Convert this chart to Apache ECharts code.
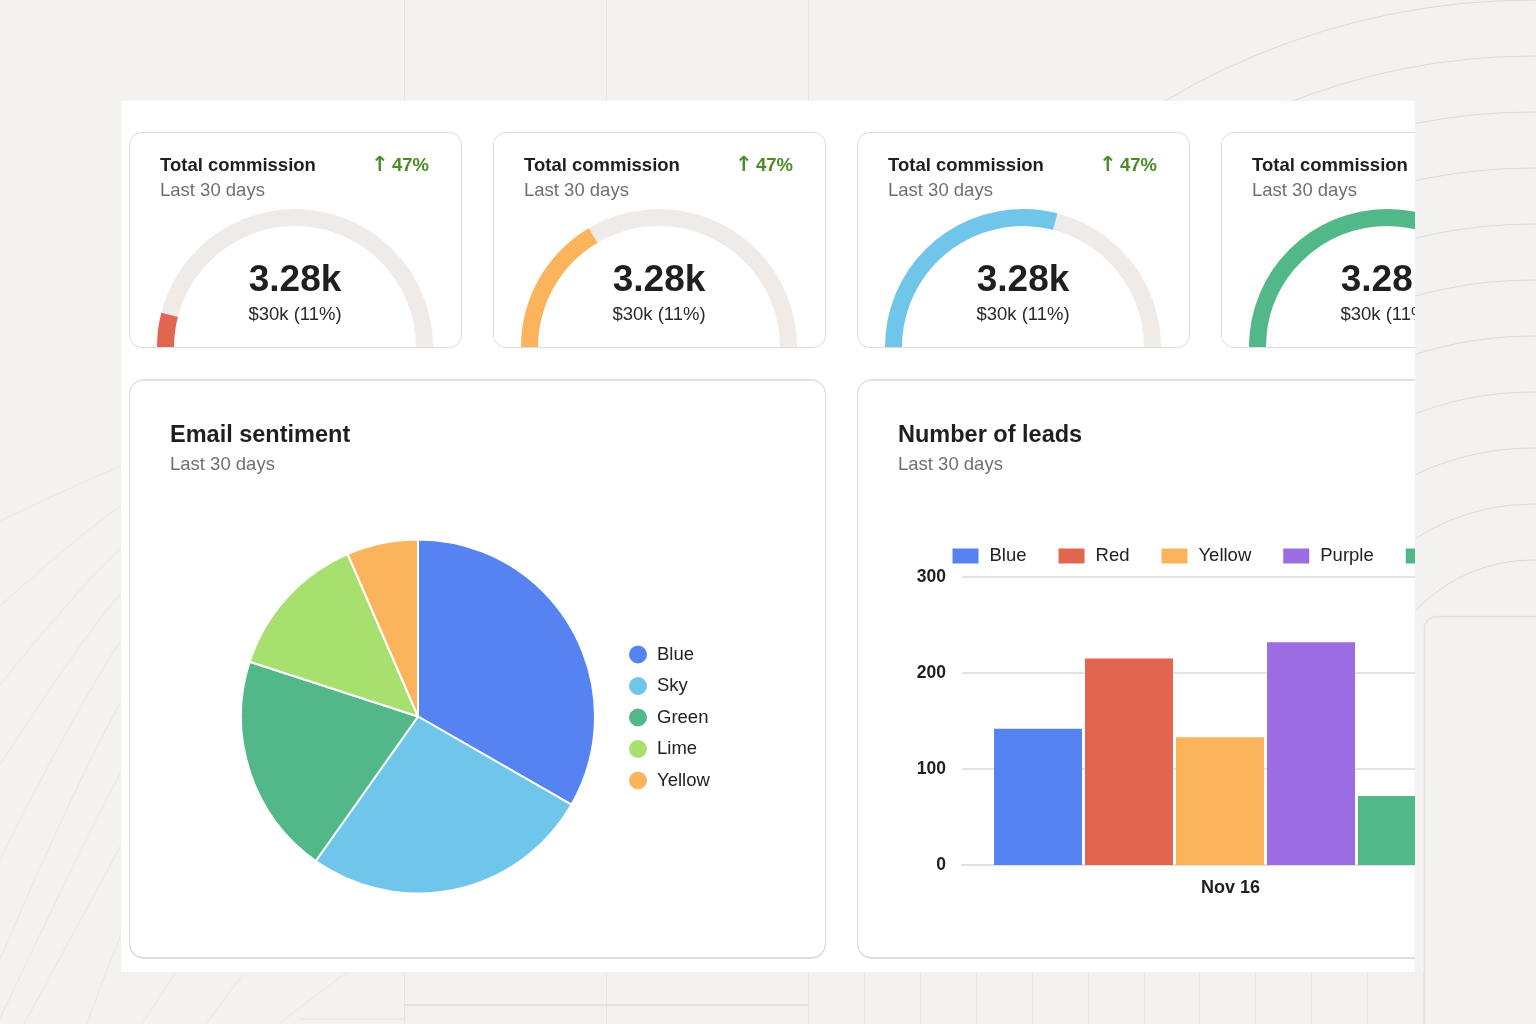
<!DOCTYPE html>
<html>
<head>
<meta charset="utf-8">
<script src="https://cdn.jsdelivr.net/npm/echarts@6/dist/echarts.min.js"></script>
<style>
html,body{margin:0;padding:0;background:#f3f2f0;width:1536px;height:1024px;overflow:hidden;}
#bg{position:absolute;left:0;top:0;width:1536px;height:1024px;}
#panel{position:absolute;left:121px;top:101px;width:1294px;height:871px;background:#fff;overflow:hidden;}
#main{position:absolute;left:0;top:0;width:1294px;height:871px;}
#bars{position:absolute;left:736px;top:278px;width:700px;height:578px;}
</style>
</head>
<body>
<div id="bg"></div>
<div id="panel"><div id="main"></div><div id="bars"></div></div>
<script>
// ---------- data ----------
const gaugeTitles = ['Total commission', 'Total commission', 'Total commission', 'Total commission'];
const gaugePeriod = 'Last 30 days';
const gaugeChange = ['47%', '47%', '47%', '47%'];
const gaugeValues = [8, 33, 58, 72];          // share of the arc filled (%)
const gaugeMain = ['3.28k', '3.28k', '3.28k', '3.28k'];
const gaugeSub = ['$30k (11%)', '$30k (11%)', '$30k (11%)', '$30k (11%)'];

const pieTitle = 'Email sentiment';
const pieCategories = ['Blue', 'Sky', 'Green', 'Lime', 'Yellow'];
const pieValues = [333, 265, 202, 135, 65];

const barTitle = 'Number of leads';
const barCategories = ['Nov 16'];
const barSeriesNames = ['Blue', 'Red', 'Yellow', 'Purple', 'Green'];
const barValues = [142, 215, 133, 232, 72];
const yAxisMin = 0, yAxisMax = 300, yAxisInterval = 100;

// ---------- styles ----------
const FONT = '"Liberation Sans", Arial, Helvetica, sans-serif';
const COLORS = {
  Blue: '#5683f2', Sky: '#6fc5ea', Green: '#52b889', Lime: '#a8e06f',
  Yellow: '#fbb45b', Red: '#e2654f', Purple: '#9c6ce2'
};
const gaugeColors = [COLORS.Red, COLORS.Yellow, COLORS.Sky, COLORS.Green];
const INK = '#1f1f1f', MUTED = '#707070', BORDER = '#e0dbd5', TRACK = '#efebe8', UP = '#4a8c25';

// ---------- background decoration ----------
const bg = echarts.init(document.getElementById('bg'), null, {renderer: 'canvas'});
const deco = [];
const faint = '#e8e6e3';
[404.5, 606.5, 808.5].forEach(function (x) {
  deco.push({type: 'line', shape: {x1: x, y1: 0, x2: x, y2: 101}, style: {stroke: faint, lineWidth: 1}});
  deco.push({type: 'line', shape: {x1: x, y1: 972, x2: x, y2: 1024}, style: {stroke: faint, lineWidth: 1}});
});
deco.push({type: 'line', shape: {x1: 404, y1: 1005, x2: 808, y2: 1005}, style: {stroke: '#e4e2df', lineWidth: 2}});
deco.push({type: 'line', shape: {x1: 299, y1: 1019, x2: 404, y2: 1019}, style: {stroke: faint, lineWidth: 1}});
for (let k = 0; k < 11; k++) {
  const x = Math.round(864 + k * 55.9) + 0.5;
  deco.push({type: 'line', shape: {x1: x, y1: 972, x2: x, y2: 1024}, style: {stroke: faint, lineWidth: 1}});
}
for (let k = 0; k < 11; k++) {
  deco.push({type: 'arc', shape: {cx: 1533, cy: 722, r: 722 - k * 56, startAngle: Math.PI, endAngle: 2 * Math.PI, clockwise: true},
    style: {stroke: '#dcd9de', fill: null, lineWidth: 1}});
}
[
  [[0, 521], [121, 466], [250, 420]],
  [[0, 606], [121, 506], [250, 440]],
  [[0, 685], [121, 548], [250, 460]],
  [[0, 765], [121, 593], [250, 480]],
  [[0, 859], [121, 641], [250, 500]],
  [[0, 959], [121, 702], [250, 530]],
  [[-10, 1040], [121, 772], [250, 560]],
  [[24, 1024], [121, 845], [250, 600]],
  [[87, 1024], [121, 935], [250, 650]],
  [[142, 1024], [176, 972], [220, 900]],
  [[206, 1024], [245, 972], [290, 920]],
  [[279, 1024], [348, 972], [420, 930]]
].forEach(function (pts) {
  deco.push({type: 'polyline', shape: {points: pts, smooth: 0.3}, style: {stroke: faint, lineWidth: 1, fill: null}});
});
deco.push({type: 'rect', shape: {x: 1424.5, y: 616.5, width: 300, height: 600, r: 12}, style: {fill: '#f3f2f0', stroke: '#e3e1df', lineWidth: 1.5}});
bg.setOption({animation: false, graphic: {elements: deco}});

// ---------- main panel: cards, gauges, pie ----------
const main = echarts.init(document.getElementById('main'), null, {renderer: 'canvas'});
const g = [];
const cardX = [8, 372, 736, 1100];
const gaugeSeries = [];
cardX.forEach(function (cx, i) {
  g.push({type: 'rect', z: 0, shape: {x: cx + 0.5, y: 31.5, width: 332, height: 215, r: 12},
    style: {fill: '#fff', stroke: BORDER, lineWidth: 1}});
  g.push({type: 'text', z: 1, x: cx + 31, y: 65, style: {text: gaugeTitles[i], font: 'bold 18.5px ' + FONT, fill: INK, align: 'left', verticalAlign: 'middle'}});
  g.push({type: 'text', z: 1, x: cx + 31, y: 90, style: {text: gaugePeriod, font: '18.5px ' + FONT, fill: MUTED, align: 'left', verticalAlign: 'middle'}});
  g.push({type: 'text', z: 1, x: cx + 300, y: 65, style: {
    text: '{a|↑} {b|' + gaugeChange[i] + '}', align: 'right', verticalAlign: 'middle',
    rich: {
      a: {fontSize: 21, fontWeight: 'bold', fontFamily: '"DejaVu Sans", sans-serif', fill: UP, color: UP},
      b: {fontSize: 18.5, fontWeight: 'bold', fontFamily: FONT, fill: UP, color: UP}
    }}});
  gaugeSeries.push({
    type: 'gauge', center: [cx + 166, 246], radius: 138, startAngle: 180, endAngle: 0,
    min: 0, max: 100, z: 3,
    axisLine: {lineStyle: {width: 17, color: [[1, TRACK]]}},
    progress: {show: true, width: 17, roundCap: false, itemStyle: {color: gaugeColors[i]}},
    pointer: {show: false}, anchor: {show: false},
    axisTick: {show: false}, splitLine: {show: false}, axisLabel: {show: false},
    title: {show: true, offsetCenter: [0, -32], fontSize: 18.5, color: '#2a2a2a', fontFamily: FONT},
    detail: {show: true, offsetCenter: [0, -66], fontSize: 37, fontWeight: 'bold', color: INK, fontFamily: FONT,
      formatter: function () { return gaugeMain[i]; }},
    data: [{value: gaugeValues[i], name: gaugeSub[i]}]
  });
});
// lower cards
g.push({type: 'rect', z: 0, shape: {x: 8.5, y: 278.5, width: 696, height: 578, r: 14},
  style: {fill: '#fff', stroke: BORDER, lineWidth: 1, shadowColor: 'rgba(0,0,0,0.10)', shadowOffsetY: 1, shadowBlur: 0}});
g.push({type: 'rect', z: 0, shape: {x: 736.5, y: 278.5, width: 700, height: 578, r: 14},
  style: {fill: '#fff', stroke: BORDER, lineWidth: 1, shadowColor: 'rgba(0,0,0,0.10)', shadowOffsetY: 1, shadowBlur: 0}});
g.push({type: 'text', z: 1, x: 49, y: 335, style: {text: pieTitle, font: 'bold 23.5px ' + FONT, fill: INK, align: 'left', verticalAlign: 'middle'}});
g.push({type: 'text', z: 1, x: 49, y: 364, style: {text: gaugePeriod, font: '18.5px ' + FONT, fill: MUTED, align: 'left', verticalAlign: 'middle'}});

main.setOption({
  animation: false,
  graphic: {elements: g},
  legend: {
    data: pieCategories, orient: 'vertical', left: 506, top: 542.5, padding: 0,
    icon: 'circle', itemWidth: 20, itemHeight: 20, itemGap: 9.5,
    textStyle: {fontSize: 18.5, color: '#222', fontFamily: FONT, lineHeight: 20, padding: [0, 0, 0, 4]}
  },
  series: gaugeSeries.concat([{
    type: 'pie', center: [297, 615.5], radius: 177, startAngle: 90, clockwise: true,
    label: {show: false}, labelLine: {show: false}, z: 3,
    itemStyle: {borderColor: '#fff', borderWidth: 2},
    emphasis: {disabled: true},
    data: pieCategories.map(function (n, i) {
      return {name: n, value: pieValues[i], itemStyle: {color: COLORS[n]}};
    })
  }])
});

// ---------- bar chart ----------
const bars = echarts.init(document.getElementById('bars'), null, {renderer: 'canvas'});
bars.setOption({
  animation: false,
  graphic: {elements: [
    {type: 'text', x: 41, y: 57, style: {text: barTitle, font: 'bold 23.5px ' + FONT, fill: INK, align: 'left', verticalAlign: 'middle'}},
    {type: 'text', x: 41, y: 86, style: {text: gaugePeriod, font: '18.5px ' + FONT, fill: MUTED, align: 'left', verticalAlign: 'middle'}}
  ]},
  legend: {
    data: barSeriesNames, left: 95.5, top: 167.5, padding: 0, icon: 'rect',
    itemWidth: 26, itemHeight: 15, itemGap: 32,
    textStyle: {fontSize: 18.5, color: '#222', fontFamily: FONT, lineHeight: 15, padding: [0, 0, 0, 6]}
  },
  grid: {left: 105, top: 198, width: 516, height: 288, containLabel: false},
  xAxis: {
    type: 'category', data: barCategories,
    axisLine: {show: true, lineStyle: {color: '#e3e0dc', width: 2}},
    axisTick: {show: false},
    axisLabel: {margin: 14, fontSize: 18, fontWeight: 'bold', color: INK, fontFamily: FONT, padding: [0, 0, 0, 21]}
  },
  yAxis: {
    type: 'value', min: yAxisMin, max: yAxisMax, interval: yAxisInterval,
    axisLine: {show: false}, axisTick: {show: false},
    splitLine: {lineStyle: {color: '#e6e3df', width: 2}},
    axisLabel: {margin: 16, fontSize: 17.5, fontWeight: 'bold', color: INK, fontFamily: FONT}
  },
  series: barSeriesNames.map(function (n, i) {
    return {
      type: 'bar', name: n, data: [barValues[i]], barWidth: 88, barGap: '3.4%',
      itemStyle: {color: COLORS[n]}, emphasis: {disabled: true}
    };
  })
});
</script>
</body>
</html>
